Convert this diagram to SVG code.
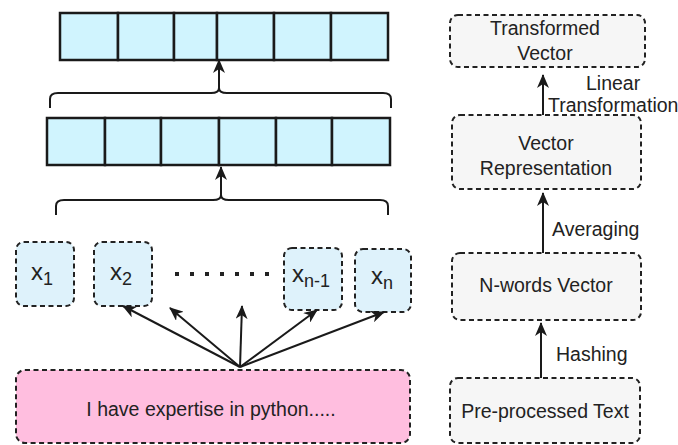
<svg xmlns="http://www.w3.org/2000/svg" width="678" height="445" viewBox="0 0 678 445">
  <style>
    .cell { fill: #d0f4fe; stroke: #1a1a1a; stroke-width: 2.5; }
    .tok { fill: #def2fb; stroke: #222; stroke-width: 2; stroke-dasharray: 5 3.5; }
    .stage { fill: #f6f6f6; stroke: #222; stroke-width: 2; stroke-dasharray: 5 3.5; }
    .inp { fill: #ffbedf; stroke: #222; stroke-width: 2; stroke-dasharray: 5 3.5; }
    .brace { fill: none; stroke: #1a1a1a; stroke-width: 2; }
    .arr { fill: none; stroke: #1a1a1a; stroke-width: 2; marker-end: url(#head); }
    text { font-family: "Liberation Sans", Arial, sans-serif; fill: #222; }
    .lbl { font-size: 19.5px; text-anchor: middle; }
    .edge { font-size: 19.5px; }
    .x { font-size: 24px; }
    .sub { font-size: 18px; }
  </style>
  <defs>
    <marker id="head" markerWidth="14" markerHeight="12" refX="13" refY="6" orient="auto" markerUnits="userSpaceOnUse" viewBox="0 0 14 12">
      <path d="M0,0 L14,6 L0,12 L4,6 Z" fill="#1a1a1a"/>
    </marker>
  </defs>

  <!-- output embedding row -->
  <g id="row-top">
    <rect class="cell" x="60" y="13" width="58" height="47"/>
    <rect class="cell" x="118" y="13" width="56" height="47"/>
    <rect class="cell" x="174" y="13" width="43" height="47"/>
    <rect class="cell" x="217" y="13" width="57" height="47"/>
    <rect class="cell" x="274" y="13" width="57" height="47"/>
    <rect class="cell" x="331" y="13" width="57" height="47"/>
  </g>

  <!-- hidden embedding row -->
  <g id="row-mid">
    <rect class="cell" x="47" y="118" width="58" height="47"/>
    <rect class="cell" x="105" y="118" width="56" height="47"/>
    <rect class="cell" x="161" y="118" width="58" height="47"/>
    <rect class="cell" x="219" y="118" width="57" height="47"/>
    <rect class="cell" x="276" y="118" width="56" height="47"/>
    <rect class="cell" x="332" y="118" width="58" height="47"/>
  </g>

  <!-- tokens -->
  <g id="x1">
    <rect class="tok" x="16" y="242" width="58" height="64" rx="8"/>
    <text class="x" x="31" y="280">x<tspan class="sub" dy="5">1</tspan></text>
  </g>
  <g id="x2">
    <rect class="tok" x="94" y="242" width="58" height="64" rx="8"/>
    <text class="x" x="110" y="280">x<tspan class="sub" dy="5">2</tspan></text>
  </g>
  <g id="dots">
    <line x1="175" y1="274" x2="278" y2="274" stroke="#222" stroke-width="4" stroke-dasharray="4 11"/>
  </g>
  <g id="xn-1">
    <rect class="tok" x="284" y="248" width="58" height="62" rx="8"/>
    <text class="x" x="292" y="282">x<tspan class="sub" dy="5">n-1</tspan></text>
  </g>
  <g id="xn">
    <rect class="tok" x="355" y="249" width="56" height="63" rx="8"/>
    <text class="x" x="371" y="284">x<tspan class="sub" dy="5">n</tspan></text>
  </g>

  <!-- input sentence -->
  <g id="input">
    <rect class="inp" x="16" y="370" width="394" height="73" rx="9"/>
    <text class="lbl" x="211" y="416">I have expertise in python.....</text>
  </g>

  <!-- pipeline stages -->
  <g id="transformed">
    <rect class="stage" x="450" y="15" width="195" height="52" rx="8"/>
    <text class="lbl" x="545" y="35">Transformed</text>
    <text class="lbl" x="545" y="60">Vector</text>
  </g>
  <g id="vector-rep">
    <rect class="stage" x="452" y="115" width="189" height="74" rx="8"/>
    <text class="lbl" x="546" y="150">Vector</text>
    <text class="lbl" x="546" y="175">Representation</text>
  </g>
  <g id="nwords">
    <rect class="stage" x="452" y="253" width="189" height="67" rx="8"/>
    <text class="lbl" x="546" y="292">N-words Vector</text>
  </g>
  <g id="preproc">
    <rect class="stage" x="450" y="378" width="190" height="65" rx="8"/>
    <text class="lbl" x="545" y="418">Pre-processed Text</text>
  </g>

  <!-- connectors -->
  <g id="connectors">
    <!-- braces -->
    <path class="brace" d="M50,108 V99 Q50,93 58,93 H211 Q219,93 219,88 Q219,93 227,93 H383 Q391,93 391,99 V108"/>
    <path class="brace" d="M56,215 V206 Q56,200 64,200 H213 Q221,200 221,195 Q221,200 229,200 H380 Q388,200 388,206 V215"/>
    <line class="arr" x1="219" y1="88" x2="219" y2="60"/>
    <line class="arr" x1="221" y1="195" x2="221" y2="167"/>

    <!-- fan-out from sentence to tokens -->
    <line class="arr" x1="240" y1="367" x2="123" y2="306"/>
    <line class="arr" x1="240" y1="367" x2="170" y2="308"/>
    <line class="arr" x1="240" y1="367" x2="242" y2="306"/>
    <line class="arr" x1="240" y1="367" x2="317" y2="310"/>
    <line class="arr" x1="240" y1="367" x2="384" y2="312"/>

    <!-- pipeline -->
    <line class="arr" x1="541" y1="378" x2="541" y2="323"/>
    <line class="arr" x1="543" y1="253" x2="543" y2="193"/>
    <line class="arr" x1="543" y1="115" x2="543" y2="75"/>
    <text class="edge" x="556" y="361">Hashing</text>
    <text class="edge" x="552" y="236">Averaging</text>
    <text class="edge" x="586" y="90">Linear</text>
    <text class="edge" x="548" y="112">Transformation</text>
  </g>
</svg>
